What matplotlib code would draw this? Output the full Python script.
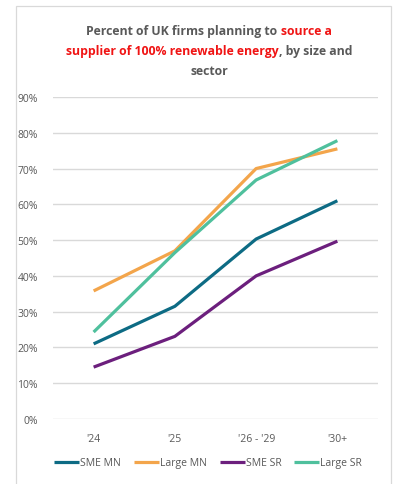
import matplotlib
matplotlib.use("Agg")
import matplotlib.pyplot as plt
from matplotlib.patches import Rectangle
from matplotlib.offsetbox import TextArea, HPacker, VPacker, AnchoredOffsetbox
from matplotlib.ticker import PercentFormatter

categories = ["'24", "'25", "'26 - '29", "'30+"]
sme_mn = [21.0, 31.5, 50.3, 61.0]
large_mn = [35.8, 47.0, 70.0, 75.5]
sme_sr = [14.5, 23.1, 40.0, 49.7]
large_sr = [24.3, 46.5, 66.8, 77.8]

series = [
    ("SME MN", sme_mn, "#0d6b84"),
    ("Large MN", large_mn, "#f3a54b"),
    ("SME SR", sme_sr, "#6c1f7d"),
    ("Large SR", large_sr, "#4fc09d"),
]

GREY = "#595959"
RED = "#f01414"
FONT = "Open Sans"

W, H = 395, 485
fig = plt.figure(figsize=(W / 100, H / 100), dpi=100)
fig.patch.set_facecolor("white")

# light frame around the whole chart area
fig.patches.append(Rectangle((16 / W, -0.1), (391 - 16) / W, 1.1 - 7 / H,
                             transform=fig.transFigure, fill=False,
                             edgecolor="#d9d9d9", linewidth=0.9))

ax = fig.add_axes([53 / W, 1 - 420 / H, (378 - 53) / W, (420 - 98) / H])
x = range(len(categories))
for name, vals, color in series:
    ax.plot(x, vals, color=color, linewidth=2.3, label=name,
            solid_capstyle="butt")

ax.set_xlim(-0.5, 3.5)
ax.set_ylim(0, 90)
ax.set_yticks(range(0, 91, 10))
ax.yaxis.set_major_formatter(PercentFormatter(decimals=0))
ax.set_xticks(list(x))
ax.set_xticklabels(categories)
for s in ax.spines.values():
    s.set_visible(False)
ax.grid(axis="y", color="#d9d9d9", linewidth=1.0)
ax.set_axisbelow(True)
ax.tick_params(length=0, labelsize=7.5, labelcolor=GREY)
ax.tick_params(axis="y", pad=11)
ax.tick_params(axis="x", pad=10)
for lab in ax.get_xticklabels() + ax.get_yticklabels():
    lab.set_family(FONT)

leg = fig.legend(loc="center", bbox_to_anchor=(208 / W, 1 - 464 / H), ncol=4,
                 frameon=False, handlelength=2.4, handletextpad=0.1,
                 columnspacing=1.25, prop={"family": FONT, "size": 7.5})
for t in leg.get_texts():
    t.set_color(GREY)
for h in leg.get_lines():
    h.set_linewidth(2.3)

# title with the highlighted phrase in red
tp = dict(fontfamily=FONT, fontweight="bold", fontsize=8.8)
lines = [
    [("Percent of UK firms planning to ", GREY), ("source a", RED)],
    [("supplier of 100% renewable energy", RED), (", by size and", GREY)],
    [("sector", GREY)],
]
rows = []
for parts in lines:
    boxes = [TextArea(txt, textprops=dict(color=c, **tp)) for txt, c in parts]
    rows.append(HPacker(children=boxes, align="baseline", pad=0, sep=0))
title = VPacker(children=rows, align="center", pad=0, sep=5)
fig.add_artist(AnchoredOffsetbox(loc="upper center", child=title, pad=0,
                                 borderpad=0, frameon=False,
                                 bbox_to_anchor=(209 / W, 1 - 25 / H),
                                 bbox_transform=fig.transFigure))

fig.savefig("out.png", dpi=100)
